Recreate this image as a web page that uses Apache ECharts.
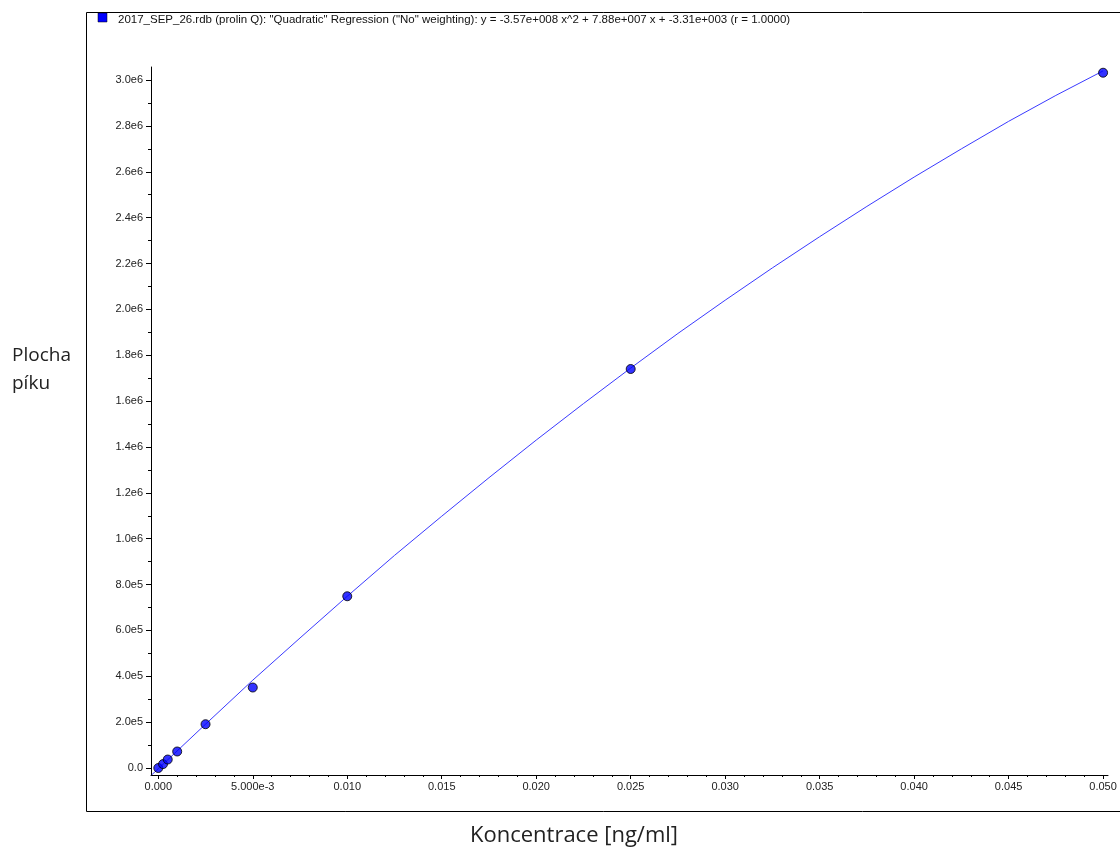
<!DOCTYPE html>
<html>
<head>
<meta charset="utf-8">
<script src="https://cdn.jsdelivr.net/npm/echarts@6/dist/echarts.min.js"></script>
<style>
html,body{margin:0;padding:0;background:#fff;}
#chart{width:1120px;height:852px;}
</style>
</head>
<body>
<div id="chart"></div>
<script>
// Calibration points (concentration [ng/ml], peak area)
var pointX = [0, 0.00025, 0.0005, 0.001, 0.0025, 0.005, 0.01, 0.025, 0.05];
var pointY = [0, 17000, 37000, 72000, 191000, 351000, 749000, 1740000, 3032000];

// Regression curve
var curveX = [-0.00035, 0, 0.0025, 0.005, 0.0075, 0.01, 0.0125, 0.015, 0.0175, 0.02, 0.0225, 0.025, 0.0275, 0.03, 0.0325, 0.035, 0.0375, 0.04, 0.0425, 0.045, 0.0475, 0.05];
var curveY = [-30000, -3000, 191000, 383000, 567000, 749000, 927000, 1098000, 1266000, 1430000, 1589000, 1744000, 1895000, 2040000, 2181000, 2317000, 2449000, 2577000, 2700000, 2820000, 2933000, 3040000];

// Tick values and labels
var xTicks = [0, 0.005, 0.01, 0.015, 0.02, 0.025, 0.03, 0.035, 0.04, 0.045, 0.05];
var xTickLabels = ["0.000", "5.000e-3", "0.010", "0.015", "0.020", "0.025", "0.030", "0.035", "0.040", "0.045", "0.050"];
var yTicks = [0, 200000, 400000, 600000, 800000, 1000000, 1200000, 1400000, 1600000, 1800000, 2000000, 2200000, 2400000, 2600000, 2800000, 3000000];
var yTickLabels = ["0.0", "2.0e5", "4.0e5", "6.0e5", "8.0e5", "1.0e6", "1.2e6", "1.4e6", "1.6e6", "1.8e6", "2.0e6", "2.2e6", "2.4e6", "2.6e6", "2.8e6", "3.0e6"];
var xMinorTicks = [];
for (var i = 1; i < 50; i++) { if (i % 5 !== 0) xMinorTicks.push(i / 1000); }
var yMinorTicks = [];
for (var j = 1; j < 30; j += 2) { yMinorTicks.push(j * 100000); }

var legendText = '2017_SEP_26.rdb (prolin Q): "Quadratic" Regression ("No" weighting): y = -3.57e+008 x^2 + 7.88e+007 x + -3.31e+003 (r = 1.0000)';

function lookup(vals, labels, v) {
  for (var k = 0; k < vals.length; k++) {
    if (Math.abs(vals[k] - v) < 1e-9 * Math.max(1, Math.abs(vals[k]))) return labels[k];
  }
  return '';
}

var XMIN = -0.000386, XMAX = 0.05026, YMIN = -30500, YMAX = 3057000;

var chart = echarts.init(document.getElementById('chart'), null, {renderer: 'canvas'});
var labelFont = {color: '#222', fontFamily: 'Liberation Sans, Arial, sans-serif', fontSize: 11};

chart.setOption({
  animation: false,
  backgroundColor: '#fff',
  grid: {left: 151, top: 67, width: 957, height: 708, containLabel: false},
  xAxis: [{
    type: 'value', min: XMIN, max: XMAX, position: 'bottom',
    axisLine: {show: true, onZero: false, lineStyle: {color: '#000', width: 1}},
    axisTick: {show: true, length: 4, customValues: xTicks, lineStyle: {color: '#000'}},
    axisLabel: Object.assign({show: true, margin: 6, customValues: xTicks,
      formatter: function (v) { return lookup(xTicks, xTickLabels, v); }}, labelFont),
    splitLine: {show: false}
  }, {
    type: 'value', min: XMIN, max: XMAX, position: 'bottom',
    axisLine: {show: false, onZero: false},
    axisTick: {show: true, length: 2, customValues: xMinorTicks, lineStyle: {color: '#000'}},
    axisLabel: {show: false},
    splitLine: {show: false}
  }],
  yAxis: [{
    type: 'value', min: YMIN, max: YMAX, position: 'left',
    axisLine: {show: true, onZero: false, lineStyle: {color: '#000', width: 1}},
    axisTick: {show: true, length: 5, customValues: yTicks, lineStyle: {color: '#000'}},
    axisLabel: Object.assign({show: true, margin: 8, customValues: yTicks,
      formatter: function (v) { return lookup(yTicks, yTickLabels, v); }}, labelFont),
    splitLine: {show: false}
  }, {
    type: 'value', min: YMIN, max: YMAX, position: 'left',
    axisLine: {show: false, onZero: false},
    axisTick: {show: true, length: 3, customValues: yMinorTicks, lineStyle: {color: '#000'}},
    axisLabel: {show: false},
    splitLine: {show: false}
  }],
  series: [{
    type: 'line',
    xAxisIndex: 0, yAxisIndex: 0,
    data: curveX.map(function (x, k) { return [x, curveY[k]]; }),
    smooth: false,
    showSymbol: false,
    symbol: 'none',
    lineStyle: {color: '#3a3aff', width: 1},
    z: 2
  }, {
    type: 'scatter',
    xAxisIndex: 0, yAxisIndex: 0,
    data: pointX.map(function (x, k) { return [x, pointY[k]]; }),
    symbol: 'circle',
    symbolSize: 9,
    itemStyle: {color: '#0000ff', borderColor: '#000', borderWidth: 1},
    z: 3
  }],
  graphic: [
    {type: 'rect', shape: {x: 86.5, y: 12.5, width: 1040, height: 799}, style: {fill: 'none', stroke: '#000', lineWidth: 1}, silent: true},
    {type: 'rect', shape: {x: 98, y: 13, width: 9, height: 9}, style: {fill: '#0000ff', stroke: '#000', lineWidth: 0.5}},
    {type: 'text', x: 118, y: 20, style: {text: legendText, fill: '#111', font: '11.5px "Liberation Sans", Arial, sans-serif', textVerticalAlign: 'middle'}},
    {type: 'text', x: 12, y: 356, style: {text: 'Plocha', fill: '#222', font: '19px "Open Sans", sans-serif', textVerticalAlign: 'middle'}},
    {type: 'text', x: 12, y: 384, style: {text: 'píku', fill: '#222', font: '19px "Open Sans", sans-serif', textVerticalAlign: 'middle'}},
    {type: 'text', x: 574, y: 836, style: {text: 'Koncentrace [ng/ml]', fill: '#222', font: '22px "Open Sans", sans-serif', textAlign: 'center', textVerticalAlign: 'middle'}}
  ]
});
</script>
</body>
</html>
